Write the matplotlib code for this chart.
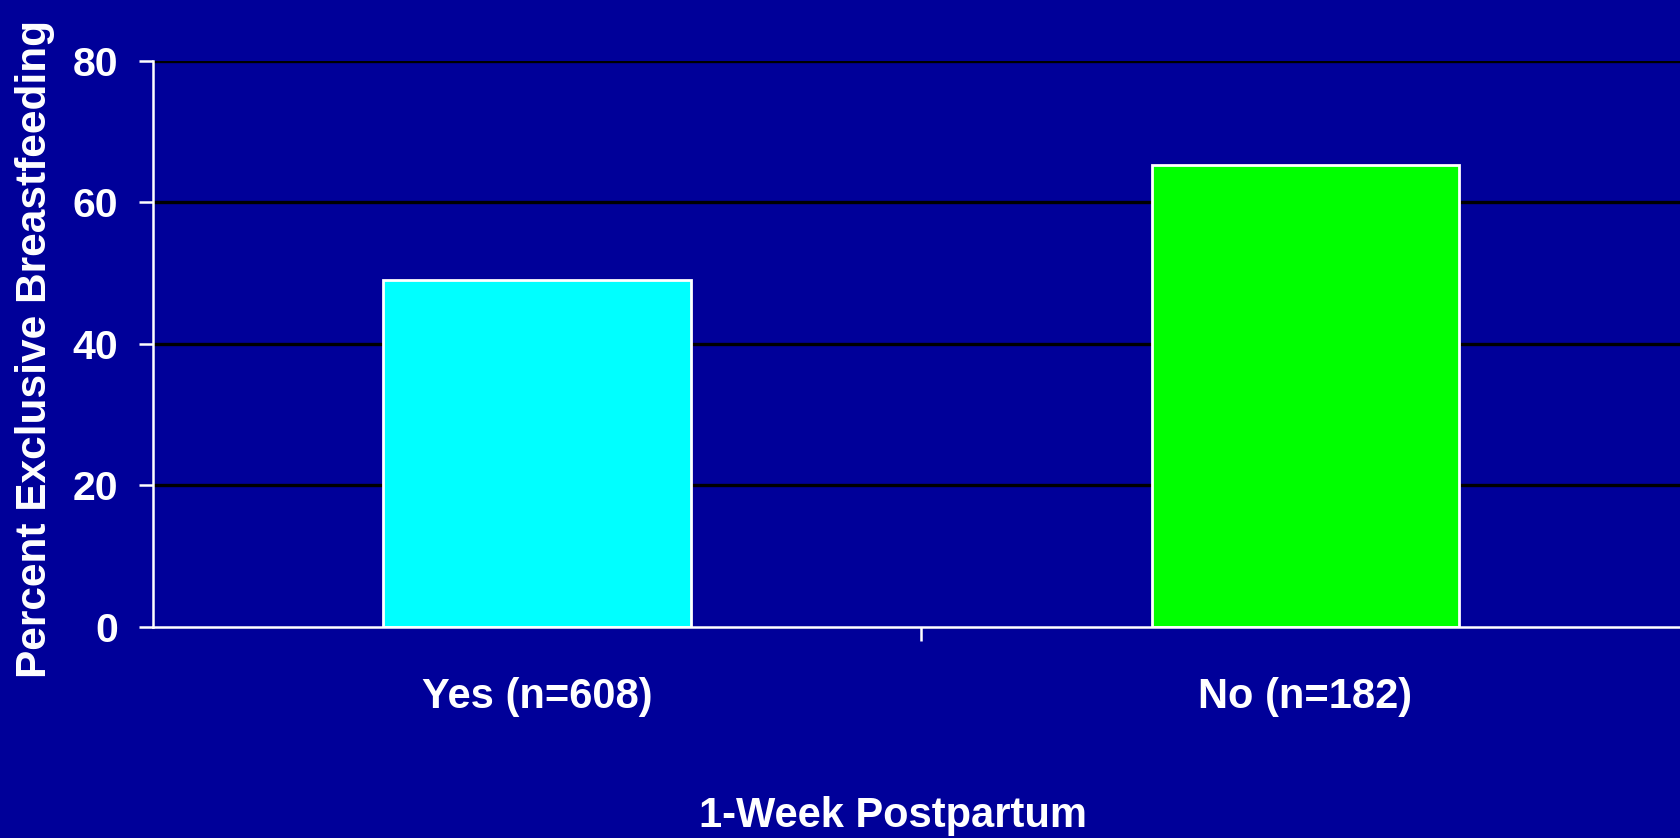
import numpy as np
import matplotlib
matplotlib.use("Agg")
import matplotlib.pyplot as plt

categories = ["Yes (n=608)", "No (n=182)"]
values = [49, 65.3]
bar_colors = ["#00FFFF", "#00FF00"]
y_ticks = [0, 20, 40, 60, 80]

bg = "#000099"
plt.rcParams["font.family"] = ["Liberation Sans", "DejaVu Sans"]
plt.rcParams["font.weight"] = "bold"

fig = plt.figure(figsize=(16.81, 8.38), dpi=100, facecolor=bg)
ax = fig.add_axes([0.091, 0.2522, 0.914, 0.675])
ax.set_facecolor(bg)

x = np.arange(len(categories))
ax.bar(x, values, width=0.4, color=bar_colors, edgecolor="white", linewidth=2, zorder=3)

ax.set_xlim(-0.5, 1.5)
ax.set_ylim(0, 80)
ax.set_yticks(y_ticks)
for t in y_ticks[1:]:
    ax.axhline(t, color="black", linewidth=2.4, zorder=1)

ax.set_xticks([0.5])
ax.set_xticklabels([""])
for xi, lab in zip(x, categories):
    ax.text(xi, -10.0, lab, ha="center", va="center", color="white",
            fontsize=30, fontweight="bold", clip_on=False)

for s in ["top", "right"]:
    ax.spines[s].set_visible(False)
for s in ["left", "bottom"]:
    ax.spines[s].set_color("white")
    ax.spines[s].set_linewidth(1.8)
    ax.spines[s].set_zorder(4)

ax.tick_params(axis="y", colors="white", length=10, width=1.8, labelsize=29.5, pad=15)
ax.tick_params(axis="x", colors="white", length=10, width=1.8)
for lab in ax.get_yticklabels():
    lab.set_fontweight("bold")

fig.text(0.021, 0.583, "Percent Exclusive Breastfeeding", rotation=90, ha="center", va="center",
         color="white", fontsize=30.5, fontweight="bold")
fig.text(0.5315, 0.026, "1-Week Postpartum", ha="center", va="center",
         color="white", fontsize=30, fontweight="bold")

fig.savefig("out.png", dpi=100, facecolor=bg)
